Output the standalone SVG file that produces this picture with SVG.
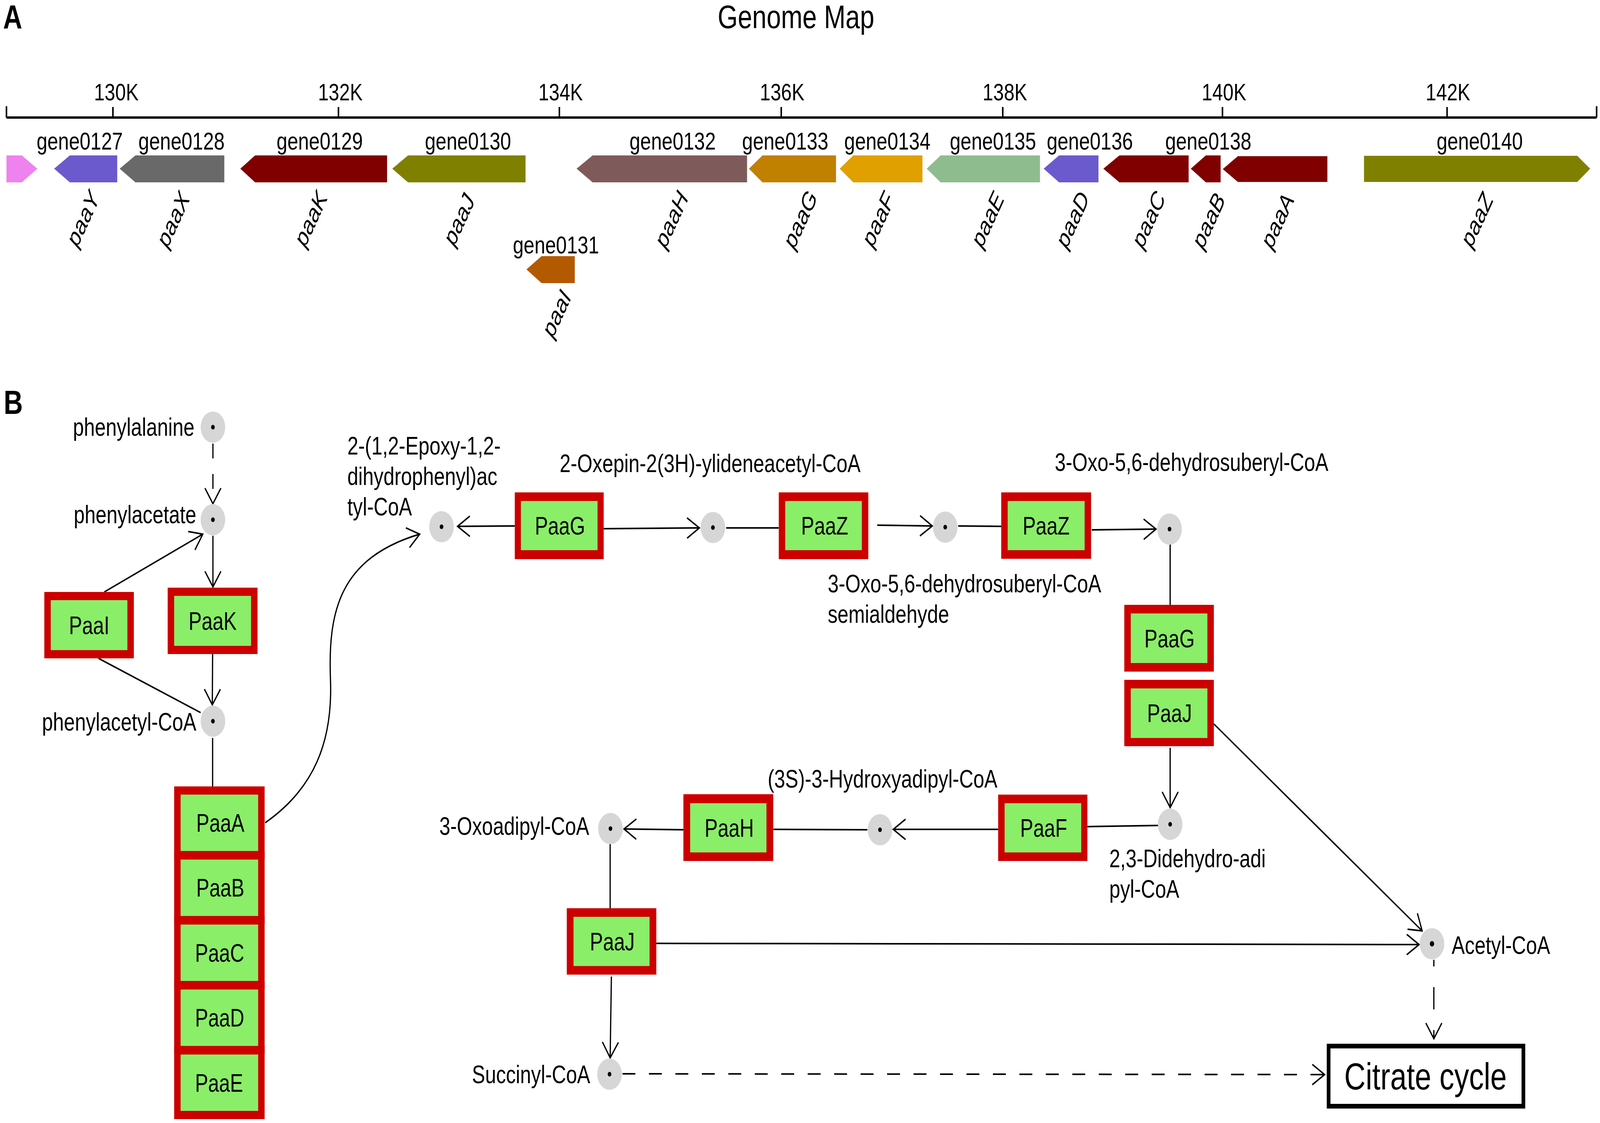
<svg xmlns="http://www.w3.org/2000/svg" width="5200" height="2876" viewBox="0 0 5200 2876" preserveAspectRatio="none">
<style>
svg{width:100vw;height:100vh;display:block}
text{font-family:"Liberation Sans",Arial,sans-serif;fill:#000}
.pl{font-size:86px;font-weight:bold}
.ttl{font-size:84px;text-anchor:middle}
.tk{font-size:62px;text-anchor:middle}
.gl{font-size:63px;text-anchor:middle}
.gn{font-size:64px;font-style:italic;text-anchor:middle}
.lb{font-size:64px}
.en{font-size:64px;text-anchor:middle}
.cc{font-size:96px;text-anchor:middle}
.ax{stroke:#000;stroke-width:6;fill:none}
.tick{stroke:#000;stroke-width:5}
.out{fill:#cc0000}
.inn{fill:#8aee68}
.cpd{fill:#d6d6d6}
.dot{fill:#000}
.c{fill:none;stroke:#000;stroke-width:4}
.a{marker-end:url(#ah)}
.d{stroke-dasharray:42 44}
</style>
<defs>
<marker id="ah" markerUnits="userSpaceOnUse" viewBox="-45 -30 50 60" markerWidth="50" markerHeight="60" refX="0" refY="0" orient="auto" overflow="visible">
<path d="M-40,-26 L0,0 L-40,26" fill="none" stroke="#000" stroke-width="4"/>
</marker>
</defs>
<rect width="5200" height="2876" fill="#fff"/>

<!-- Panel A -->
<text class="pl" x="10" y="73">A</text>
<text class="ttl" x="2587" y="72">Genome Map</text>
<g id="axis">
<line class="ax" x1="21" y1="301" x2="5189" y2="301"/>
<line class="tick" x1="21" y1="272" x2="21" y2="301"/>
<line class="tick" x1="5189" y1="272" x2="5189" y2="301"/>
<line class="tick" x1="367" y1="274" x2="367" y2="301"/>
<line class="tick" x1="1100" y1="274" x2="1100" y2="301"/>
<line class="tick" x1="1818" y1="274" x2="1818" y2="301"/>
<line class="tick" x1="2539" y1="274" x2="2539" y2="301"/>
<line class="tick" x1="3259" y1="274" x2="3259" y2="301"/>
<line class="tick" x1="3973" y1="274" x2="3973" y2="301"/>
<line class="tick" x1="4703" y1="274" x2="4703" y2="301"/>
<text class="tk" x="378" y="257">130K</text>
<text class="tk" x="1106" y="257">132K</text>
<text class="tk" x="1822" y="257">134K</text>
<text class="tk" x="2542" y="257">136K</text>
<text class="tk" x="3266" y="257">138K</text>
<text class="tk" x="3978" y="257">140K</text>
<text class="tk" x="4706" y="257">142K</text>
</g>

<g id="gene0126"><polygon points="21,398 71,398 121,432 71,467 21,467" fill="#ee82ee"/></g>
<g id="gene0127"><polygon points="176,432 227,398 381,398 381,467 227,467" fill="#6a5acd"/>
<text class="gl" x="259" y="383">gene0127</text>
<text class="gn" x="270" y="560" transform="rotate(-60 270 560)" dy="22">paaY</text></g>
<g id="gene0128"><polygon points="389,432 440,398 729,398 729,467 440,467" fill="#696969"/>
<text class="gl" x="590" y="383">gene0128</text>
<text class="gn" x="563" y="562" transform="rotate(-60 563 562)" dy="22">paaX</text></g>
<g id="gene0129"><polygon points="781,432 829,398 1258,398 1258,467 829,467" fill="#800000"/>
<text class="gl" x="1039" y="383">gene0129</text>
<text class="gn" x="1010" y="560" transform="rotate(-60 1010 560)" dy="22">paaK</text></g>
<g id="gene0130"><polygon points="1275,432 1326,398 1708,398 1708,467 1326,467" fill="#808000"/>
<text class="gl" x="1521" y="383">gene0130</text>
<text class="gn" x="1492" y="562" transform="rotate(-60 1492 562)" dy="22">paaJ</text></g>
<g id="gene0131"><polygon points="1711,690 1760,656 1868,656 1868,725 1760,725" fill="#b35a00"/>
<text class="gl" x="1807" y="649">gene0131</text>
<text class="gn" x="1809" y="803" transform="rotate(-60 1809 803)" dy="22">paaI</text></g>
<g id="gene0132"><polygon points="1874,432 1926,398 2428,398 2428,467 1926,467" fill="#7f5a5a"/>
<text class="gl" x="2186" y="383">gene0132</text>
<text class="gn" x="2182" y="562" transform="rotate(-60 2182 562)" dy="22">paaH</text></g>
<g id="gene0133"><polygon points="2434,432 2478,398 2717,398 2717,467 2478,467" fill="#c08000"/>
<text class="gl" x="2552" y="383">gene0133</text>
<text class="gn" x="2601" y="562" transform="rotate(-60 2601 562)" dy="22">paaG</text></g>
<g id="gene0134"><polygon points="2729,432 2773,398 2998,398 2998,467 2773,467" fill="#e0a000"/>
<text class="gl" x="2884" y="383">gene0134</text>
<text class="gn" x="2854" y="562" transform="rotate(-60 2854 562)" dy="22">paaF</text></g>
<g id="gene0135"><polygon points="3012,432 3057,398 3380,398 3380,467 3057,467" fill="#8fbc8f"/>
<text class="gl" x="3227" y="383">gene0135</text>
<text class="gn" x="3210" y="562" transform="rotate(-60 3210 562)" dy="22">paaE</text></g>
<g id="gene0136"><polygon points="3392,432 3442,398 3570,398 3570,467 3442,467" fill="#6a5acd"/>
<text class="gl" x="3542" y="383">gene0136</text>
<text class="gn" x="3486" y="562" transform="rotate(-60 3486 562)" dy="22">paaD</text></g>
<g id="gene0137"><polygon points="3586,432 3638,398 3863,398 3863,467 3638,467" fill="#800000"/>
<text class="gn" x="3733" y="562" transform="rotate(-60 3733 562)" dy="22">paaC</text></g>
<g id="gene0138"><polygon points="3870,432 3919,398 3967,398 3967,467 3919,467" fill="#800000"/>
<text class="gl" x="3927" y="383">gene0138</text>
<text class="gn" x="3928" y="565" transform="rotate(-60 3928 565)" dy="22">paaB</text></g>
<g id="gene0139"><polygon points="3974,433 4023,400 4314,400 4314,466 4023,466" fill="#800000"/>
<text class="gn" x="4152" y="565" transform="rotate(-60 4152 565)" dy="22">paaA</text></g>
<g id="gene0140"><polygon points="4433,399 5126,399 5168,432 5126,466 4433,466" fill="#808000"/>
<text class="gl" x="4809" y="383">gene0140</text>
<text class="gn" x="4800" y="563" transform="rotate(-60 4800 563)" dy="22">paaZ</text></g>

<!-- Panel B -->
<text class="pl" x="12" y="1060">B</text>

<g id="connectors">
<line class="c a d" x1="692" y1="1136" x2="692" y2="1290" style="stroke-dasharray:38 40"/>
<line class="c a" x1="692" y1="1372" x2="692" y2="1503"/>
<line class="c a" x1="691" y1="1675" x2="690" y2="1805"/>
<line class="c a" x1="339" y1="1516" x2="659" y2="1368"/>
<line class="c" x1="320" y1="1686" x2="652" y2="1825"/>
<line class="c" x1="691" y1="1890" x2="691" y2="2014"/>
<path class="c a" d="M862,2107 C1020,2020 1082,1900 1074,1740 C1066,1570 1100,1430 1364,1368"/>
<line class="c a" x1="1673" y1="1347" x2="1487" y2="1348"/>
<line class="c a" x1="1962" y1="1354" x2="2273" y2="1352"/>
<line class="c" x1="2360" y1="1352" x2="2531" y2="1352"/>
<line class="c a" x1="2851" y1="1345" x2="3030" y2="1347"/>
<line class="c" x1="3114" y1="1347" x2="3254" y2="1348"/>
<line class="c a" x1="3548" y1="1357" x2="3757" y2="1355"/>
<line class="c" x1="3803" y1="1394" x2="3803" y2="1549"/>
<line class="c a" x1="3803" y1="1915" x2="3803" y2="2068"/>
<line class="c a" x1="3945" y1="1854" x2="4622" y2="2384"/>
<line class="c" x1="3764" y1="2114" x2="3534" y2="2117"/>
<line class="c a" x1="3244" y1="2124" x2="2903" y2="2124"/>
<line class="c" x1="2819" y1="2125" x2="2513" y2="2124"/>
<line class="c a" x1="2221" y1="2125" x2="2028" y2="2123"/>
<line class="c" x1="1983" y1="2162" x2="1983" y2="2326"/>
<line class="c a" x1="2133" y1="2416" x2="4612" y2="2419"/>
<line class="c a" x1="1987" y1="2501" x2="1983" y2="2709"/>
<line class="c a d" x1="2023" y1="2750" x2="4305" y2="2752"/>
<line class="c a" x1="4660" y1="2458" x2="4660" y2="2660" style="stroke-dasharray:57 53;stroke-dashoffset:40"/>
</g>

<g id="phenylalanine"><circle class="cpd" cx="692" cy="1094" r="40"/><circle class="dot" cx="692" cy="1094" r="6"/>
<text class="lb" x="632" y="1116" text-anchor="end">phenylalanine</text></g>
<g id="phenylacetate"><circle class="cpd" cx="692" cy="1331" r="40"/><circle class="dot" cx="692" cy="1331" r="6"/>
<text class="lb" x="638" y="1340" text-anchor="end">phenylacetate</text></g>
<g id="phenylacetyl-CoA"><circle class="cpd" cx="692" cy="1847" r="40"/><circle class="dot" cx="692" cy="1847" r="6"/>
<text class="lb" x="638" y="1871" text-anchor="end">phenylacetyl-CoA</text></g>
<g id="epoxy"><circle class="cpd" cx="1435" cy="1349" r="40"/><circle class="dot" cx="1435" cy="1349" r="6"/>
<text class="lb" x="1129" y="1164">2-(1,2-Epoxy-1,2-</text>
<text class="lb" x="1129" y="1242">dihydrophenyl)ac</text>
<text class="lb" x="1129" y="1320">tyl-CoA</text></g>
<g id="oxepin"><circle class="cpd" cx="2317" cy="1351" r="40"/><circle class="dot" cx="2317" cy="1351" r="6"/>
<text class="lb" x="1819" y="1209">2-Oxepin-2(3H)-ylideneacetyl-CoA</text></g>
<g id="oxo-semialdehyde"><circle class="cpd" cx="3072" cy="1350" r="40"/><circle class="dot" cx="3072" cy="1350" r="6"/>
<text class="lb" x="2690" y="1517">3-Oxo-5,6-dehydrosuberyl-CoA</text>
<text class="lb" x="2690" y="1595">semialdehyde</text></g>
<g id="oxo-dehydrosuberyl"><circle class="cpd" cx="3801" cy="1355" r="40"/><circle class="dot" cx="3801" cy="1355" r="6"/>
<text class="lb" x="3428" y="1206">3-Oxo-5,6-dehydrosuberyl-CoA</text></g>
<g id="didehydroadipyl"><circle class="cpd" cx="3803" cy="2111" r="40"/><circle class="dot" cx="3803" cy="2111" r="6"/>
<text class="lb" x="3605" y="2221">2,3-Didehydro-adi</text>
<text class="lb" x="3605" y="2299">pyl-CoA</text></g>
<g id="hydroxyadipyl"><circle class="cpd" cx="2860" cy="2125" r="40"/><circle class="dot" cx="2860" cy="2125" r="6"/>
<text class="lb" x="2495" y="2017">(3S)-3-Hydroxyadipyl-CoA</text></g>
<g id="oxoadipyl"><circle class="cpd" cx="1984" cy="2122" r="40"/><circle class="dot" cx="1984" cy="2122" r="6"/>
<text class="lb" x="1915" y="2138" text-anchor="end">3-Oxoadipyl-CoA</text></g>
<g id="succinyl"><circle class="cpd" cx="1981" cy="2751" r="40"/><circle class="dot" cx="1981" cy="2751" r="6"/>
<text class="lb" x="1918" y="2774" text-anchor="end">Succinyl-CoA</text></g>
<g id="acetyl"><circle class="cpd" cx="4654" cy="2417" r="40"/><circle class="dot" cx="4654" cy="2417" r="7"/>
<text class="lb" x="4718" y="2443">Acetyl-CoA</text></g>

<g id="PaaI"><rect class="out" x="144" y="1516" width="291" height="170"/><rect class="inn" x="165" y="1537" width="249" height="128"/><text class="en" x="290" y="1624">PaaI</text></g>
<g id="PaaK"><rect class="out" x="545" y="1505" width="292" height="170"/><rect class="inn" x="566" y="1526" width="250" height="128"/><text class="en" x="691" y="1613">PaaK</text></g>
<g id="PaaA"><rect class="out" x="566" y="2014" width="294" height="186.4"/><rect class="inn" x="587" y="2035" width="252" height="144.4"/><text class="en" x="716" y="2130">PaaA</text></g>
<g id="PaaB"><rect class="out" x="566" y="2180.4" width="294" height="186.4"/><rect class="inn" x="587" y="2201.4" width="252" height="144.4"/><text class="en" x="716" y="2296">PaaB</text></g>
<g id="PaaC"><rect class="out" x="566" y="2346.8" width="294" height="186.4"/><rect class="inn" x="587" y="2367.8" width="252" height="144.4"/><text class="en" x="714" y="2463">PaaC</text></g>
<g id="PaaD"><rect class="out" x="566" y="2513.2" width="294" height="186.4"/><rect class="inn" x="587" y="2534.2" width="252" height="144.4"/><text class="en" x="714" y="2629">PaaD</text></g>
<g id="PaaE"><rect class="out" x="566" y="2679.6" width="294" height="186.4"/><rect class="inn" x="587" y="2700.6" width="252" height="144.4"/><text class="en" x="712" y="2796">PaaE</text></g>
<g id="PaaG-1"><rect class="out" x="1673" y="1261" width="289" height="171"/><rect class="inn" x="1693" y="1283" width="249" height="126"/><text class="en" x="1820" y="1369">PaaG</text></g>
<g id="PaaZ-1"><rect class="out" x="2531" y="1261" width="291" height="171"/><rect class="inn" x="2552" y="1283" width="249" height="126"/><text class="en" x="2680" y="1369">PaaZ</text></g>
<g id="PaaZ-2"><rect class="out" x="3254" y="1261" width="292" height="170"/><rect class="inn" x="3275" y="1283" width="250" height="126"/><text class="en" x="3400" y="1369">PaaZ</text></g>
<g id="PaaG-2"><rect class="out" x="3654" y="1549" width="291" height="171"/><rect class="inn" x="3675" y="1571" width="249" height="127"/><text class="en" x="3801" y="1658">PaaG</text></g>
<g id="PaaJ-1"><rect class="out" x="3654" y="1741" width="291" height="170"/><rect class="inn" x="3675" y="1763" width="249" height="127"/><text class="en" x="3801" y="1849">PaaJ</text></g>
<g id="PaaF"><rect class="out" x="3244" y="2035" width="290" height="170"/><rect class="inn" x="3265" y="2057" width="249" height="126"/><text class="en" x="3392" y="2143">PaaF</text></g>
<g id="PaaH"><rect class="out" x="2221" y="2034" width="292" height="171"/><rect class="inn" x="2243" y="2057" width="248" height="126"/><text class="en" x="2370" y="2143">PaaH</text></g>
<g id="PaaJ-2"><rect class="out" x="1842" y="2326" width="291" height="170"/><rect class="inn" x="1864" y="2348" width="247" height="126"/><text class="en" x="1990" y="2434">PaaJ</text></g>
<g id="citrate-cycle"><rect x="4318" y="2679" width="633" height="154" fill="#fff" stroke="#000" stroke-width="12"/><text class="cc" x="4633" y="2790">Citrate cycle</text></g>
</svg>
